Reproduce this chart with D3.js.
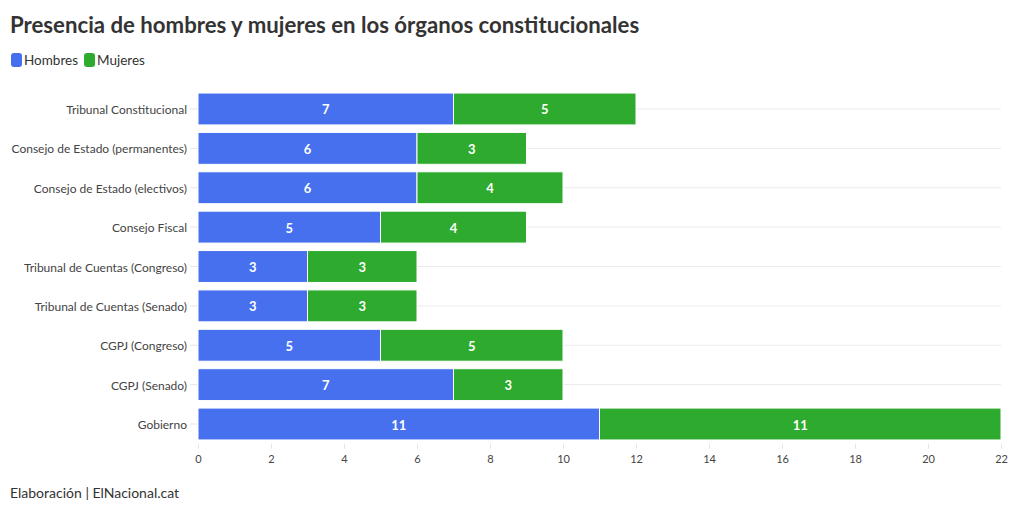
<!DOCTYPE html>
<html><head><meta charset="utf-8">
<script src="https://cdn.jsdelivr.net/npm/d3@7"></script>
<style>
body{margin:0;background:#fff;}
svg{display:block;font-family:"Source Sans Pro","Lato","Noto Sans",sans-serif;}
</style></head>
<body><svg id="c" width="1020" height="513"></svg>
<script>
const categories = ["Tribunal Constitucional","Consejo de Estado (permanentes)","Consejo de Estado (electivos)","Consejo Fiscal","Tribunal de Cuentas (Congreso)","Tribunal de Cuentas (Senado)","CGPJ (Congreso)","CGPJ (Senado)","Gobierno"];
const hombres = [7,6,6,5,3,3,5,7,11];
const mujeres = [5,3,4,4,3,3,5,3,11];
const seriesNames = ["Hombres","Mujeres"];
const xTicks = [0,2,4,6,8,10,12,14,16,18,20,22];
const colors = ["#4670ee","#2eab2e"];

const svg = d3.select("#c");
const x = d3.scaleLinear().domain([0,22]).range([198,1001]);
const y = d3.scaleBand().domain(categories).range([89.3,443.7]).paddingInner(0.19).paddingOuter(0.095);

svg.append("text").attr("x",10).attr("y",33).attr("font-size",22.2).attr("font-weight",700).attr("fill","#333")
  .text("Presencia de hombres y mujeres en los órganos constitucionales");

// legend
let lx = 11;
seriesNames.forEach((s,i)=>{
  svg.append("rect").attr("x",lx).attr("y",53).attr("width",11).attr("height",14).attr("rx",3).attr("fill",colors[i]);
  const t = svg.append("text").attr("x",lx+13).attr("y",65).attr("font-size",13.5).attr("fill","#333").text(s);
  lx += 13 + t.node().getComputedTextLength() + 6;
});

// gridlines
svg.append("g").selectAll("line").data(categories).join("line")
  .attr("x1",x(0)).attr("x2",x(22))
  .attr("y1",d=>y(d)+y.bandwidth()/2).attr("y2",d=>y(d)+y.bandwidth()/2)
  .attr("stroke","#ebebeb");

// y axis
const ya = svg.append("g").attr("transform",`translate(${x(0)},0)`).call(d3.axisLeft(y).tickSize(8).tickPadding(3));
ya.attr("font-family",null).attr("font-size",null);
ya.select(".domain").remove();
ya.selectAll("line").attr("stroke","#e6e6e6");
ya.selectAll("text").attr("font-size",12).attr("fill","#444").attr("dy","0.42em");

// x axis
const xa = svg.append("g").attr("transform",`translate(0,${y.range()[1]})`).call(d3.axisBottom(x).tickValues(xTicks).tickSize(5).tickPadding(7));
xa.attr("font-family",null).attr("font-size",null);
xa.select(".domain").remove();
xa.selectAll("line").attr("stroke","#e6e6e6");
xa.selectAll("text").attr("font-size",11).attr("fill","#444");

// bars
const rows = categories.map((c,i)=>({c, vals:[hombres[i],mujeres[i]]}));
rows.forEach(r=>{
  let start = 0;
  r.vals.forEach((v,j)=>{
    svg.append("rect").attr("x",x(start)).attr("y",y(r.c)).attr("width",x(start+v)-x(start)).attr("height",y.bandwidth())
      .attr("fill",colors[j]).attr("stroke","#fff").attr("stroke-width",1);
    svg.append("text").attr("x",(x(start)+x(start+v))/2).attr("y",y(r.c)+y.bandwidth()/2+5.5)
      .attr("text-anchor","middle").attr("font-size",13).attr("font-weight",700).attr("fill","#fff").text(v);
    start += v;
  });
});

svg.append("text").attr("x",10).attr("y",498).attr("font-size",14).attr("fill","#333").text("Elaboración | ElNacional.cat");
</script></body></html>
